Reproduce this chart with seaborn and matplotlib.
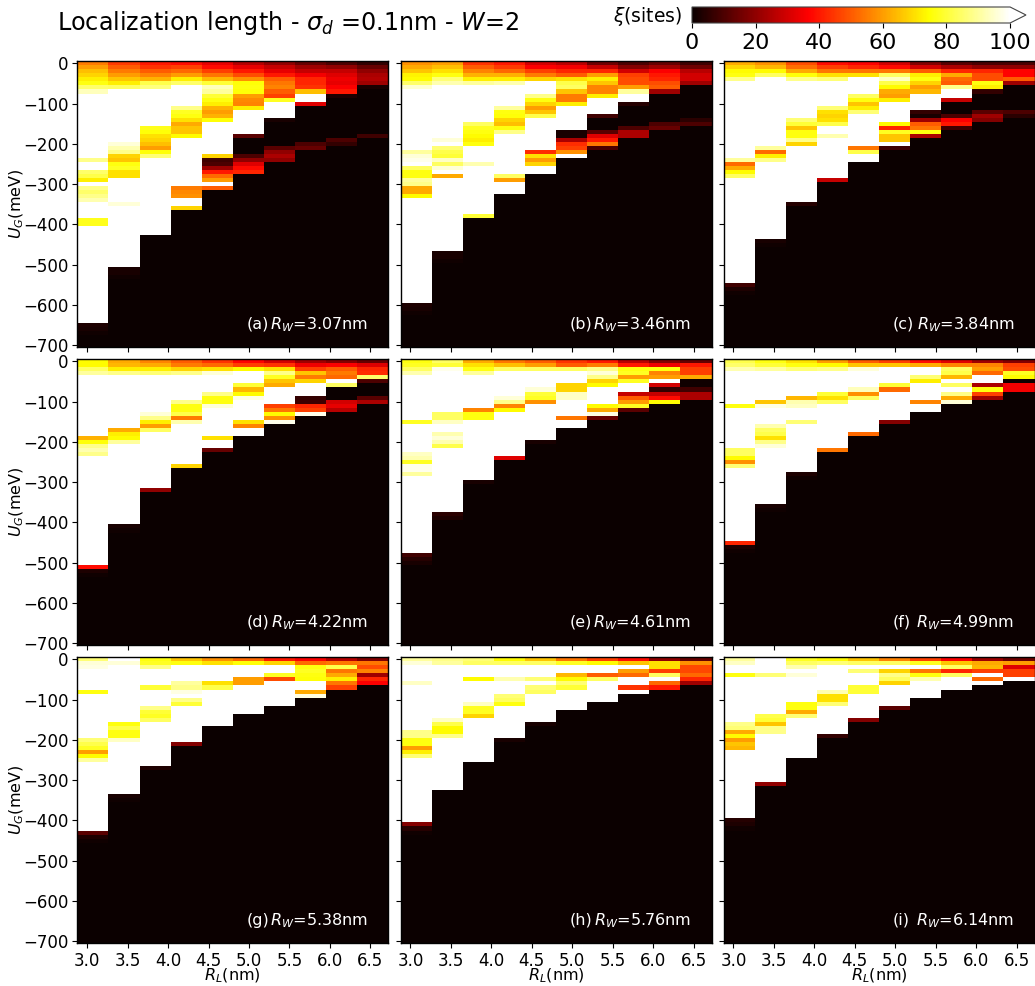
import numpy as np
import pandas as pd
import matplotlib
matplotlib.use("Agg")
import matplotlib.pyplot as plt
import seaborn as sns

W = 120  # saturated (above colour range)
# Each column: single value = one 10 meV row, (value, n) = n rows; the rest of the column is 0
P_A = [
 [55,60,65,68,72,76,85,93,(W,16),88,(W,2),85,82,72,W,88,85,88,92,(W,4),(77,2),(W,24),3,2,1],
 [45,50,55,60,66,72,84,(W,13),96,92,88,68,66,76,78,70,70,(W,6),96,(W,15),2,2,1],
 [40,44,50,56,63,82,87,(W,9),77,75,70,68,65,60,75,86,(W,19)],
 [38,46,52,60,72,85,(W,5),88,78,76,70,62,66,66,74,(W,12),55,57,58,(W,2),68],
 [33,38,46,54,64,80,93,90,80,76,72,63,60,63,75,(W,8),68,8,10,22,40,52,60,W,50],
 [25,33,40,48,58,75,76,75,60,57,56,72,(W,6),12,(0,4),10,20,32,38,42],
 [20,28,33,40,50,54,56,50,46,78,(W,4),2,(0,6),12,20,24,20],
 [14,22,28,35,42,42,44,65,(W,2),32,(0,9),10,14],
 [10,20,28,32,34,33,36,40,3,(0,10),10,6],
 [6,14,20,24,25,22,2,(0,11),8],
]
P_B = [
 [58,62,66,73,74,85,95,(W,15),90,96,98,W,84,76,76,90,88,62,62,74,(W,26),3,2,1],
 [60,65,70,76,86,92,(W,13),96,W,86,82,80,94,84,96,W,62,(W,18),2,2,1],
 [44,50,56,63,72,90,(W,9),84,78,76,74,72,76,(W,4),92,(W,12),80],
 [40,45,52,63,72,92,(W,5),90,76,75,68,65,76,88,(W,10),84,60,(W,3)],
 [30,36,46,55,68,(W,3),88,76,68,60,66,82,(W,8),43,70,60,68,(W,2)],
 [26,35,42,50,70,82,84,66,55,55,72,(W,6),2,2,24,43,46,58,W],
 [15,28,42,60,72,66,56,56,72,(W,4),8,(0,3),12,32,40,54,10],
 [10,18,30,46,48,48,60,90,(W,2),4,(0,5),10,24,24],
 [14,22,36,40,42,48,50,22,(0,7),10,14],
 [8,15,26,30,30,22,(0,8),5,10],
]
P_C = [
 [62,68,74,76,88,(W,19),90,52,62,74,84,(W,26),8,3,1],
 [58,64,74,84,(W,17),90,52,72,88,(W,19),2,1],
 [48,53,62,75,88,(W,9),86,80,66,76,76,88,68,(W,14),4],
 [38,46,54,70,86,(W,6),86,70,68,70,82,(W,2),92,(W,10),28],
 [36,42,54,70,(W,4),84,76,66,72,86,(W,8),54,82,(W,2)],
 [30,38,54,84,94,82,74,62,60,72,(W,5),74,42,78,66,66,W,8],
 [18,30,50,72,76,68,60,64,(W,4),6,2,22,50,54,76,24],
 [12,24,42,62,52,50,88,(W,2),28,(0,3),10,36,40,8],
 [10,20,42,48,48,76,72,6,(0,4),12,22,18],
 [10,20,37,37,50,22,(0,6),10,5],
]
P_D = [
 [74,74,84,90,(W,15),63,75,88,92,88,(W,27),38,3,1],
 [62,64,72,88,(W,13),62,72,74,90,(W,20),2,1],
 [56,62,72,86,(W,9),96,88,72,60,84,(W,14),20],
 [50,55,68,88,(W,6),88,76,76,82,55,92,(W,10),68],
 [44,52,70,96,(W,4),88,76,76,96,(W,7),70,(W,2),14],
 [37,46,74,(W,3),80,64,74,97,(W,5),70,56,(W,2)],
 [30,44,70,88,78,66,62,(W,4),46,54,74,58,98],
 [22,34,46,66,55,68,(W,3),6,8,42,46,98],
 [18,36,50,55,52,W,84,(0,3),30,33,26],
 [14,32,42,43,85,10,(0,3),12,24],
]
P_E = [
 [76,78,84,92,(W,11),78,(W,7),94,92,78,98,98,90,(W,19),8,4,2],
 [84,80,98,(W,10),84,84,94,(W,2),92,96,92,82,(W,16),5,3],
 [62,70,76,90,(W,8),56,76,76,(W,15),2],
 [54,65,84,(W,6),96,88,56,74,(W,11),32],
 [50,60,84,(W,4),96,80,78,58,(W,9),2],
 [44,50,84,(W,3),68,68,94,94,(W,4),54,(W,2)],
 [40,55,88,96,88,68,74,(W,4),74,62,97,14],
 [26,40,76,78,60,78,(W,2),28,50,60,78,12],
 [18,34,76,56,60,W,30,6,28,38,74],
 [14,40,46,46,62,1,1,8,24,24],
]
P_F = [
 [82,85,92,(W,8),76,(W,10),84,84,74,58,86,(W,18),42,3,1],
 [76,80,90,(W,7),66,97,(W,4),92,84,82,70,88,96,(W,14),2,1],
 [70,76,86,(W,6),64,92,94,(W,3),86,(W,12),3,1],
 [60,74,88,(W,5),80,70,84,(W,11),54],
 [50,66,96,(W,4),93,58,84,(W,8),52],
 [46,66,(W,4),80,52,(W,7),18],
 [38,62,(W,2),86,72,(W,4),56,(W,2)],
 [32,56,84,82,64,W,84,W,88,62,96],
 [22,56,60,52,W,W,24,76,46,22],
 [18,46,48,78,74,1,35,35],
]
P_G = [
 [86,96,97,(W,5),76,(W,11),86,82,78,60,74,90,(W,17),12,3,1],
 [W,96,(W,14),76,82,76,76,94,(W,13),2,1],
 [76,78,88,W,(W,3),80,(W,4),88,80,78,84,(W,11),3],
 [66,76,(W,4),90,88,97,W,88,80,(W,9),18],
 [58,70,(W,4),70,82,(W,9)],
 [52,75,(W,3),60,60,(W,7)],
 [40,68,(W,2),78,48,(W,6)],
 [36,52,76,78,76,75,(W,2),62,97],
 [26,54,82,54,62,72,54,46],
 [18,54,48,56,22,42,36],
]
P_H = [
 [90,96,(W,4),94,(W,11),88,88,76,76,60,72,86,(W,16),18,4,1],
 [88,90,(W,13),94,82,74,74,88,(W,13)],
 [86,84,(W,3),74,(W,5),94,78,78,68,(W,11)],
 [74,84,(W,3),92,(W,3),86,84,76,(W,8),2],
 [66,84,(W,3),86,W,86,84,(W,7),2],
 [54,78,(W,2),64,74,86,80,(W,5)],
 [46,74,(W,2),50,84,(W,5)],
 [38,66,W,60,52,(W,2),44,W],
 [20,70,70,46,84,W,52,40],
 [14,58,47,47,52,42,22],
]
P_I = [
 [90,94,(W,2),76,(W,11),88,86,62,74,60,66,64,(W,17),4,3,1],
 [(W,4),86,(W,9),82,80,66,88,88,(W,12),20],
 [78,84,92,W,96,(W,6),76,76,62,86,(W,10)],
 [74,86,(W,6),92,70,70,86,(W,7),6],
 [66,84,W,86,(W,3),80,80,(W,6),18],
 [56,84,W,68,88,84,68,(W,5),12],
 [46,78,W,54,76,92,(W,4)],
 [36,66,84,42,84,(W,3)],
 [22,62,64,46,W,52,W],
 [15,60,32,46,46,W],
]
PANELS = [P_A, P_B, P_C, P_D, P_E, P_F, P_G, P_H, P_I]
LETTERS = ["(a)", "(b)", "(c)", "(d)", "(e)", "(f)", "(g)", "(h)", "(i)"]
RW = [3.07, 3.46, 3.84, 4.22, 4.61, 4.99, 5.38, 5.76, 6.14]
RL = [3.07, 3.46, 3.84, 4.22, 4.61, 4.99, 5.38, 5.76, 6.14, 6.53]
UG = list(range(0, -710, -10))
XTICKS = [3.0, 3.5, 4.0, 4.5, 5.0, 5.5, 6.0, 6.5]
YTICKS = [0, -100, -200, -300, -400, -500, -600, -700]
TITLE = r"Localization length - $\sigma_d$ =0.1nm - $W$=2"
CB_TICKS = [0, 20, 40, 60, 80, 100]


def expand(col):
    out = []
    for item in col:
        if isinstance(item, tuple):
            out += [item[0]] * item[1]
        else:
            out.append(item)
    return out + [0] * (len(UG) - len(out))


sns.set_theme(style="white")
plt.rcParams["font.family"] = ["DejaVu Sans"]
plt.rcParams["mathtext.default"] = "it"
PW, PH = 1035, 986
fig = plt.figure(figsize=(PW / 100, PH / 100), dpi=100)


def px_axes(x0, y0, x1, y1):
    return fig.add_axes([x0 / PW, 1 - y1 / PH, (x1 - x0) / PW, (y1 - y0) / PH])


lefts = [77.3, 400.5, 723.5]
tops = [61.3, 359.3, 657.3]
cax = px_axes(692, 7, 1026, 23)
rl_arr = np.array(RL)
step = (rl_arr[-1] - rl_arr[0]) / (len(RL) - 1)
cb = None
for i, panel in enumerate(PANELS):
    r, c = divmod(i, 3)
    ax = px_axes(lefts[c], tops[r], lefts[c] + 311, tops[r] + 286)
    df = pd.DataFrame({rl: expand(col) for rl, col in zip(RL, panel)}, index=UG)
    sns.heatmap(df, ax=ax, cmap="hot", vmin=0, vmax=100, cbar=(i == 0),
                cbar_ax=cax if i == 0 else None,
                cbar_kws={"orientation": "horizontal", "extend": "max"} if i == 0 else None,
                xticklabels=False, yticklabels=False, rasterized=True)
    if i == 0:
        cb = ax.collections[0].colorbar
    for s in ax.spines.values():
        s.set_visible(True)
        s.set_color("black")
        s.set_linewidth(1.0)
    ax.set_xticks([(x - RL[0]) / step + 0.5 for x in XTICKS])
    ax.set_yticks([-u / 10 + 0.5 for u in YTICKS])
    ax.tick_params(axis="both", length=3.5, width=0.8, color="black", bottom=True, left=True,
                   labelsize=12, labelcolor="black", pad=3)
    ax.set_xticklabels([f"{x:.1f}" for x in XTICKS] if r == 2 else [], rotation=0)
    ax.set_yticklabels([f"\u2212{-u}" if u else "0" for u in YTICKS] if c == 0 else [], rotation=0)
    ax.set_xlabel(r"$R_L$(nm)" if r == 2 else "", fontsize=11.5, labelpad=-3, color="black")
    ax.set_ylabel(r"$U_G$(meV)" if c == 0 else "", fontsize=11.5, color="black")
    ax.yaxis.set_label_coords(-0.166, 0.5)
    ax.text(0.543, 0.08, LETTERS[i], transform=ax.transAxes, color="white", fontsize=11.5,
            ha="left", va="center")
    ax.text(0.935, 0.08, rf"$R_W$={RW[i]:.2f}nm", transform=ax.transAxes, color="white",
            fontsize=11.5, ha="right", va="center")

cb.set_ticks(CB_TICKS)
cb.ax.tick_params(labelsize=16, length=3.5, width=0.8, color="black", labelcolor="black", bottom=True, pad=4)
cb.outline.set_edgecolor("#444444")
cb.outline.set_linewidth(0.8)
fig.text(682 / PW, 1 - 16 / PH, r"$\xi$(sites)", fontsize=13.5, ha="right", va="center", color="black")
fig.text(57 / PW, 1 - 23 / PH, TITLE, fontsize=17.2, ha="left", va="center", color="black")
fig.savefig("out.png", dpi=100)
